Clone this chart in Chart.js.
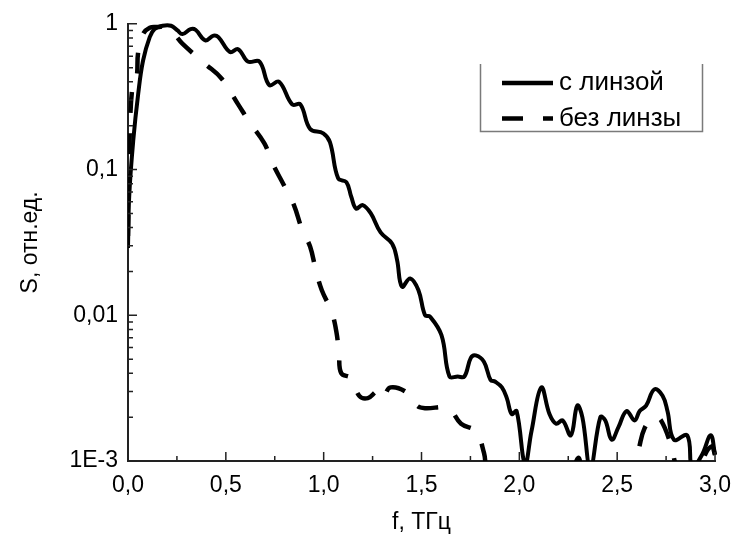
<!DOCTYPE html>
<html><head><meta charset="utf-8">
<script src="https://cdn.jsdelivr.net/npm/chart.js@4.4.0/dist/chart.umd.min.js"></script>
<style>html,body{margin:0;padding:0;background:#fff;}canvas{display:block;}</style>
</head><body>
<canvas id="c" width="742" height="536"></canvas>
<script>
// ---- data ----
const fSolid = [0, 0.006, 0.027, 0.052, 0.077, 0.111, 0.136, 0.177, 0.22, 0.253, 0.278, 0.32, 0.345, 0.395, 0.437, 0.462, 0.521, 0.563, 0.613, 0.672, 0.722, 0.772, 0.839, 0.881, 0.931, 0.998, 1.032, 1.074, 1.116, 1.141, 1.166, 1.199, 1.241, 1.291, 1.35, 1.375, 1.4, 1.442, 1.484, 1.518, 1.543, 1.602, 1.643, 1.685, 1.719, 1.752, 1.777, 1.819, 1.853, 1.877, 1.911, 1.936, 1.961, 1.986, 2.029, 2.062, 2.112, 2.154, 2.188, 2.221, 2.263, 2.296, 2.322, 2.363, 2.414, 2.439, 2.472, 2.506, 2.548, 2.589, 2.615, 2.648, 2.69, 2.732, 2.757, 2.79, 2.858, 2.883, 2.933, 2.978, 3.0];
const sSolid = [0.029, 0.065, 0.159, 0.33, 0.56, 0.81, 0.92, 0.97, 0.97, 0.90, 0.85, 0.92, 0.91, 0.77, 0.83, 0.81, 0.64, 0.67, 0.55, 0.55, 0.38, 0.40, 0.28, 0.28, 0.19, 0.177, 0.154, 0.087, 0.082, 0.065, 0.054, 0.057, 0.050, 0.037, 0.031, 0.024, 0.0157, 0.0179, 0.0149, 0.0100, 0.0098, 0.0073, 0.0038, 0.0038, 0.0038, 0.0051, 0.0053, 0.0048, 0.0036, 0.0035, 0.0032, 0.0027, 0.0021, 0.0022, 0.00095, 0.0016, 0.0032, 0.0021, 0.0018, 0.0019, 0.0015, 0.0024, 0.0020, 0.0009, 0.0020, 0.0019, 0.0014, 0.0017, 0.0022, 0.0019, 0.0022, 0.0024, 0.0031, 0.0028, 0.0022, 0.0014, 0.0015, 0.0009, 0.0011, 0.0015, 0.0011];
const fDashed = [0, 0.01, 0.027, 0.044, 0.052, 0.077, 0.111, 0.152, 0.194, 0.236, 0.278, 0.395, 0.479, 0.563, 0.622, 0.697, 0.739, 0.797, 0.848, 0.889, 0.931, 0.96, 0.99, 1.04, 1.065, 1.078, 1.09, 1.141, 1.182, 1.226, 1.275, 1.3, 1.342, 1.434, 1.476, 1.518, 1.635, 1.702, 1.777, 1.819, 1.84, 1.95, 2.03, 2.08, 2.2, 2.25, 2.3, 2.35, 2.55, 2.607, 2.64, 2.69, 2.724, 2.774, 2.807, 2.9, 2.941, 2.983, 3.0];
const sDashed = [0.035, 0.196, 0.41, 0.43, 0.64, 0.85, 0.94, 0.95, 0.95, 0.85, 0.73, 0.53, 0.42, 0.28, 0.21, 0.151, 0.110, 0.078, 0.057, 0.039, 0.0295, 0.0204, 0.0149, 0.0106, 0.0077, 0.0055, 0.0040, 0.0037, 0.0028, 0.0027, 0.0030, 0.0027, 0.0032, 0.0029, 0.0024, 0.0023, 0.0023, 0.0018, 0.0016, 0.00114, 0.0008, 0.0005, 0.00098, 0.0006, 0.00097, 0.0006, 0.00105, 0.0007, 0.0007, 0.00117, 0.00168, 0.0020, 0.0019, 0.0013, 0.0009, 0.0006, 0.00104, 0.00126, 0.0011];
const seriesLabels = ['с линзой', 'без линзы'];
const xTicks = [0, 0.5, 1, 1.5, 2, 2.5, 3];
const xTickLabels = ['0,0', '0,5', '1,0', '1,5', '2,0', '2,5', '3,0'];
const yTicks = [0.001, 0.01, 0.1, 1];
const yTickLabels = ['1E-3', '0,01', '0,1', '1'];
const xTitle = 'f, ТГц';
const yTitle = 'S, отн.ед.';

const FONT = '"Liberation Sans", Arial, sans-serif';
Chart.defaults.font.family = FONT;
Chart.defaults.color = '#000';

const inwardTicks = {
  id: 'inwardTicks',
  afterDatasetsDraw(chart) {
    const {ctx, chartArea: a, scales: {x, y}} = chart;
    ctx.save();
    ctx.strokeStyle = '#222';
    ctx.lineWidth = 1.5;
    ctx.beginPath();
    for (let k = 0; k <= 12; k++) {
      const v = k * 0.25;
      const px = x.getPixelForValue(v);
      const len = (k % 2 === 0) ? 9 : 5;
      ctx.moveTo(px, a.bottom);
      ctx.lineTo(px, a.bottom - len);
    }
    for (let e = -3; e <= 0; e++) {
      for (let m = 1; m <= 9; m++) {
        if (e === 0 && m > 1) break;
        const py = y.getPixelForValue(m * Math.pow(10, e));
        const len = m === 1 ? 9 : 5;
        ctx.moveTo(a.left, py);
        ctx.lineTo(a.left + len, py);
      }
    }
    ctx.stroke();
    ctx.restore();
  }
};

const boxLegend = {
  id: 'boxLegend',
  afterDraw(chart) {
    const ctx = chart.ctx;
    ctx.save();
    ctx.strokeStyle = '#7a7a7a';
    ctx.lineWidth = 1.5;
    ctx.beginPath();
    ctx.moveTo(480.5, 64);
    ctx.lineTo(480.5, 131.5);
    ctx.lineTo(702.5, 131.5);
    ctx.lineTo(702.5, 64);
    ctx.stroke();
    chart.data.datasets.forEach((ds, i) => {
      const yy = 83 + i * 35.5;
      ctx.strokeStyle = ds.borderColor;
      ctx.lineWidth = 4.5;
      ctx.lineCap = 'butt';
      ctx.setLineDash(ds.borderDash || []);
      ctx.beginPath();
      ctx.moveTo(502, yy);
      ctx.lineTo(553, yy);
      ctx.stroke();
      ctx.setLineDash([]);
      ctx.fillStyle = '#000';
      ctx.font = '26px ' + FONT;
      ctx.textBaseline = 'alphabetic';
      ctx.textAlign = 'left';
      ctx.fillText(ds.label, 559, yy + 7);
    });
    ctx.restore();
  }
};

const clipBox = {left: 0, top: 6, right: 4, bottom: 0};

new Chart(document.getElementById('c'), {
  type: 'line',
  data: {
    datasets: [
      {
        label: seriesLabels[0],
        data: fSolid.map((f, i) => ({x: f, y: sSolid[i]})),
        borderColor: '#000', borderWidth: 4, pointRadius: 0, tension: 0.4,
        borderJoinStyle: 'round', fill: false, clip: clipBox
      },
      {
        label: seriesLabels[1],
        data: fDashed.map((f, i) => ({x: f, y: sDashed[i]})),
        borderColor: '#000', borderWidth: 4.5, borderDash: [21, 20], pointRadius: 0, tension: 0.4,
        borderJoinStyle: 'round', fill: false, clip: clipBox
      }
    ]
  },
  options: {
    responsive: false, animation: false, devicePixelRatio: 1,
    layout: {padding: {top: 23, right: 17, left: 0, bottom: 0}},
    plugins: {legend: {display: false}, tooltip: {enabled: false}},
    scales: {
      x: {
        type: 'linear', min: 0, max: 3,
        afterFit(s) { s.height = 75; },
        afterBuildTicks(s) { s.ticks = xTicks.map(v => ({value: v})); },
        grid: {display: false, drawTicks: false},
        border: {display: true, color: '#222', width: 2},
        ticks: {
          padding: 11, color: '#000', font: {size: 23}, maxRotation: 0, autoSkip: false,
          callback: (v) => xTickLabels[xTicks.indexOf(v)] ?? ''
        },
        title: {display: true, text: xTitle, color: '#000', font: {size: 23}, padding: {top: 0, bottom: 0}}
      },
      y: {
        type: 'logarithmic', min: 0.001, max: 1,
        afterFit(s) { s.width = 128; },
        afterBuildTicks(s) { s.ticks = yTicks.map(v => ({value: v})); },
        grid: {display: false, drawTicks: false},
        border: {display: true, color: '#222', width: 2},
        ticks: {
          padding: 10, color: '#000', font: {size: 23}, autoSkip: false,
          callback: (v) => yTickLabels[yTicks.indexOf(v)] ?? ''
        },
        title: {display: true, text: yTitle, color: '#000', font: {size: 23}, padding: {top: 17, bottom: 0}}
      }
    }
  },
  plugins: [inwardTicks, boxLegend]
});
</script>
</body></html>
